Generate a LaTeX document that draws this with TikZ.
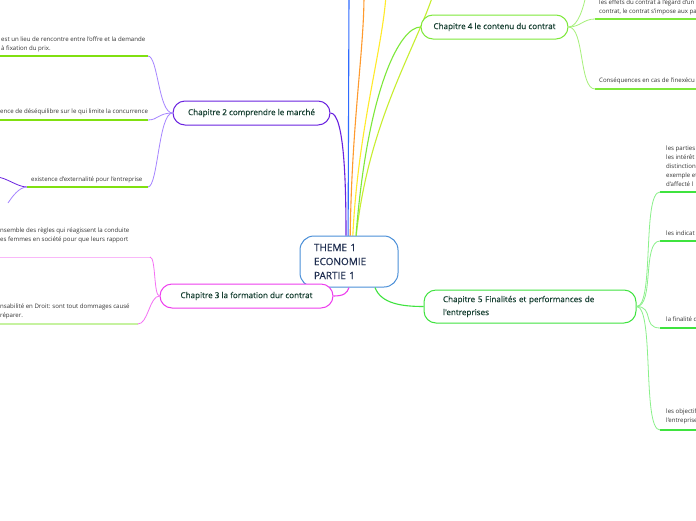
\documentclass[tikz,border=0pt]{standalone}
\usepackage{fontspec}
\setmainfont{Open Sans}
\newfontfamily\headfont[FakeBold=0.5]{Open Sans}
\definecolor{hubline}{HTML}{4A8FD8}
\definecolor{hubtext}{HTML}{1E2D4F}
\definecolor{chaptext}{HTML}{163F31}
\definecolor{leafgray}{HTML}{333333}
\definecolor{ctwo}{HTML}{6A22E0}
\definecolor{ctwosub}{HTML}{A584FF}
\definecolor{cthree}{HTML}{EE3EEE}
\definecolor{cthreesub}{HTML}{F470F4}
\definecolor{cfour}{HTML}{7DE83A}
\definecolor{cfoursub}{HTML}{A6F07A}
\definecolor{cfive}{HTML}{3FE33F}
\definecolor{cfivesub}{HTML}{8AF08A}
\definecolor{lime}{HTML}{80E010}
\definecolor{palelime}{HTML}{C6F2A0}
\definecolor{rayblue}{HTML}{2F6BFF}
\definecolor{rayorange}{HTML}{FF9A2E}
\definecolor{rayyellow}{HTML}{FFEA2A}
\definecolor{raygreen}{HTML}{C8EE30}

\begin{document}
\begin{tikzpicture}[x=1pt,y=-1pt,
  chap/.style={draw,line width=1pt,rounded corners=12pt,fill=white,text=chaptext,
    font=\headfont\fontsize{8.1}{13}\selectfont,minimum height=24pt,inner sep=0pt},
  leaf/.style={text=leafgray,font=\fontsize{6.1}{9}\selectfont,align=left,inner sep=0pt,anchor=north west},
  stem/.style={line width=0.8pt},
  uline/.style={line width=1.3pt,lime}]
  \fill[white] (0,0) rectangle (696,520);
  \useasboundingbox (0,0) rectangle (696,520);
  % free ends running off the page
  \coordinate (rayb) at (349,-5);
  \coordinate (rayo) at (364,-5);
  \coordinate (rayy) at (386,-5);
  \coordinate (rayg) at (433,-5);
  % rays from the centre (drawn under the nodes)
  \coordinate (hubc) at (349,261.5);
  \begin{scope}[stem,line width=1.1pt]
   \draw[rayblue] ([xshift=-1pt]hubc) -- (rayb);
   \draw[rayorange] ([xshift=1pt]hubc) .. controls +(0,-130) and +(0,60) .. (rayo);
   \draw[rayyellow] ([xshift=3pt]hubc) .. controls +(2,-120) and +(-4,60) .. (rayy);
   \draw[raygreen] ([xshift=5pt]hubc) .. controls +(8,-130) and +(-20,60) .. (rayg);
  \end{scope}
  % centre and chapters
  \node[draw=hubline,line width=1pt,rounded corners=14pt,fill=white,text=hubtext,
    minimum width=98pt,minimum height=51pt,text width=70pt,align=left,inner sep=0pt,
    font=\headfont\fontsize{10}{14}\selectfont] (hub) at (hubc) {THEME 1\\ECONOMIE\\PARTIE 1};
  \node[chap,draw=ctwo,minimum width=157pt] (ch2) at (251.5,113) {Chapitre 2 comprendre le marché};
  \node[chap,draw=cthree,minimum width=173pt] (ch3) at (246.5,296) {Chapitre 3 la formation dur contrat};
  \node[chap,draw=cfour,minimum width=147pt] (ch4) at (494.5,27) {Chapitre 4 le contenu du contrat};
  \node[chap,draw=cfive,minimum width=212pt,minimum height=33pt,text width=174pt,align=left] (ch5) at (530,306.5)
    {Chapitre 5 Finalités et performances de\\l'entreprises};
  % chapters to the centre
  \begin{scope}[stem,line width=1.1pt]
   \draw[cfour] ([xshift=7pt]hub.north) .. controls +(12,-150) and +(-20,0) .. (ch4.west);
   \draw[ctwo] (ch2.east) .. controls +(14,0) and +(0,-50) .. ([xshift=-3pt]hub.north);
   \draw[cthree] (ch3.east) .. controls +(10,0) and +(-2,6) .. (hub.south);
   \draw[cfive] ([xshift=26pt]hub.south) .. controls +(6,16) and +(-22,0) .. (ch5.west);
  \end{scope}
  % chapitre 2 leaves
  \coordinate (l21a) at (0,56);   \coordinate (l21b) at (148,56);
  \coordinate (l22a) at (0,120);  \coordinate (l22b) at (148,120);
  \coordinate (l23a) at (27,187); \coordinate (l23b) at (148,187);
  \node[leaf] (l21) at (1,37) {est un lieu de rencontre entre l'offre et la demande\\à fixation du prix.};
  \node[leaf] (l22) at (0,109) {ence de déséquilibre sur le qui limite la concurrence};
  \node[leaf] (l23) at (31,177) {existence d'externalité pour l'entreprise};
  \draw[uline] (l21a) -- (l21b);
  \draw[uline] (l22a) -- (l22b);
  \draw[uline] (l23a) -- (l23b);
  \draw[stem,ctwosub] (ch2.west) .. controls +(-14,0) and +(10,0) .. (l21b);
  \draw[stem,ctwosub] (ch2.west) .. controls +(-14,0) and +(10,0) .. (l22b);
  \draw[stem,ctwosub] (ch2.west) .. controls +(-14,0) and +(10,0) .. (l23b);
  \coordinate (l23c) at (-4,177);
  \coordinate (l23d) at (8,203);
  \draw[stem,ctwo] (l23a) .. controls +(-10,0) and +(10,0) .. (l23c);
  \draw[stem,ctwosub] (l23a) .. controls +(-8,0) and +(4,-6) .. (l23d);
  % chapitre 3 leaves
  \coordinate (l31a) at (0,257);  \coordinate (l31b) at (150,257);
  \coordinate (l32a) at (0,324);  \coordinate (l32b) at (138,324);
  \node[leaf] (l31) at (0,228) {nsemble des règles qui réagissent la conduite\\es femmes en société pour que leurs rapport};
  \node[leaf] (l32) at (0,304) {nsabilité en Droit: sont tout dommages causé\\réparer.};
  \draw[line width=1pt,cthreesub!50] (l31a) -- (l31b);
  \draw[line width=1.3pt,palelime] (l32a) -- (l32b);
  \draw[stem,cthreesub] (ch3.west) .. controls +(-6,0) and +(6,0) .. (l31b);
  \draw[stem,cthreesub] (ch3.west) .. controls +(-10,0) and +(10,0) .. (l32b);
  % chapitre 4 leaves
  \coordinate (l41) at (586,-5);
  \coordinate (l42a) at (595,19); \coordinate (l42b) at (700,19);
  \coordinate (l43a) at (595,89); \coordinate (l43b) at (700,89);
  \node[leaf] (l42) at (599,0) {les effets du contrat à l'égard d'un\\contrat, le contrat s'impose aux pa};
  \node[leaf] (l43) at (599,78) {Conséquences en cas de l'inexécu};
  \draw[uline,cfour] (l42a) -- (l42b);
  \draw[uline,cfour] (l43a) -- (l43b);
  \draw[stem,cfoursub] (ch4.east) .. controls +(10,0) and +(-2,10) .. (l41);
  \draw[stem,cfoursub] (ch4.east) .. controls +(12,0) and +(-12,0) .. (l42a);
  \draw[stem,cfoursub] (ch4.east) .. controls +(16,0) and +(-16,0) .. (l43a);
  % chapitre 5 leaves
  \coordinate (l51a) at (660,192); \coordinate (l51b) at (700,192);
  \coordinate (l52a) at (660,241); \coordinate (l52b) at (700,241);
  \coordinate (l53a) at (660,328); \coordinate (l53b) at (700,328);
  \coordinate (l54a) at (660,430); \coordinate (l54b) at (700,430);
  \node[leaf] (l51) at (666,146) {les parties\\les intérêt\\distinction\\exemple et\\d'affecté l};
  \node[leaf] (l52) at (666,231) {les indicat};
  \node[leaf] (l53) at (666,317) {la finalité d};
  \node[leaf] (l54) at (666,409) {les objectif\\l'entreprise};
  \foreach \k in {1,...,4}{
    \draw[uline,cfive] (l5\k a) -- (l5\k b);
    \draw[stem,cfivesub] (ch5.east) .. controls +(18,0) and +(-18,0) .. (l5\k a);
  }
\end{tikzpicture}
\end{document}
